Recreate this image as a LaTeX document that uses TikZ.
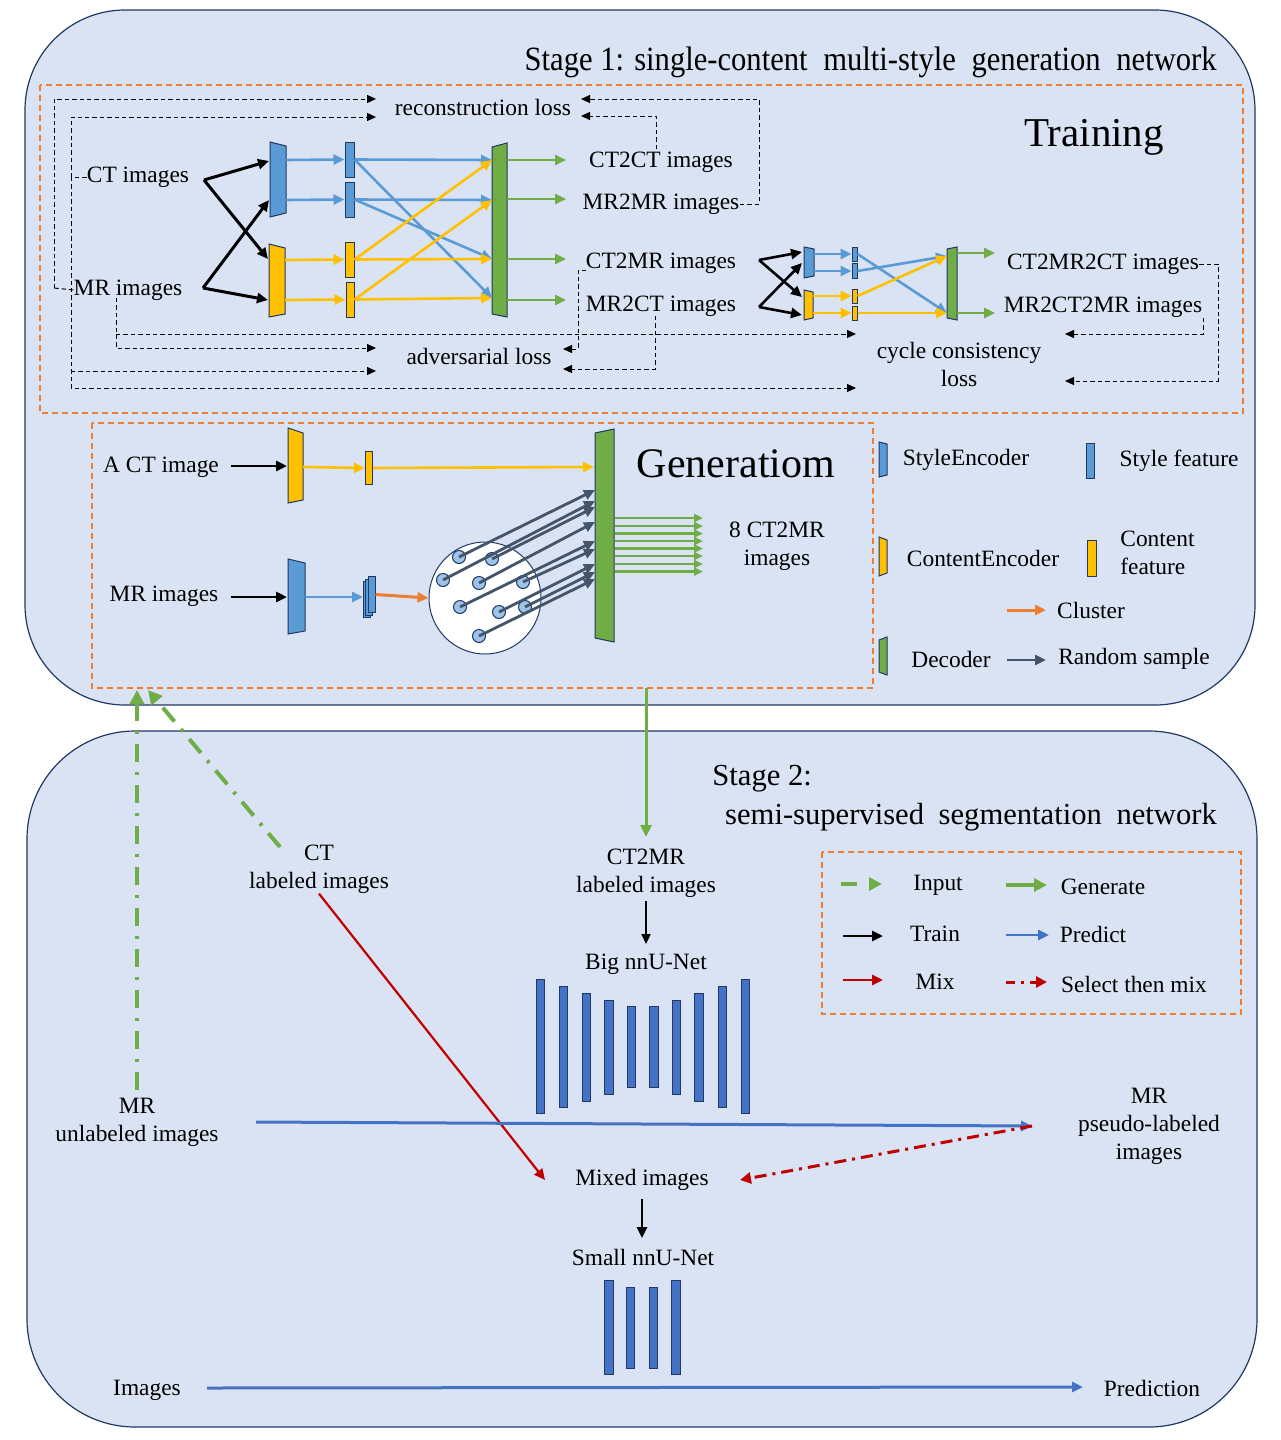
\documentclass[tikz,border=0pt]{standalone}
\usepackage{fontspec}
\setmainfont{Liberation Serif}
\newfontfamily\titlefont[FakeStretch=0.9]{Liberation Serif}
\usetikzlibrary{arrows.meta}
\definecolor{bgblue}{HTML}{DAE3F3}
\definecolor{sblue}{HTML}{5B9BD5}
\definecolor{syel}{HTML}{FFC000}
\definecolor{sgreen}{HTML}{70AD47}
\definecolor{sorange}{HTML}{ED7D31}
\definecolor{slate}{HTML}{44546A}
\definecolor{nblue}{HTML}{4472C4}
\definecolor{sred}{HTML}{C00000}
\definecolor{edge}{HTML}{203864}
\definecolor{dotblue}{HTML}{9DC3E6}
\tikzset{
 stagebox/.style={fill=bgblue, draw=edge, line width=0.6pt},
 odash/.style={draw=sorange, line width=0.6pt, dash pattern=on 3pt off 2pt},
 txt/.style={font=\fontsize{11.7}{14}\selectfont, inner sep=0pt, align=center},
 shp/.style={draw=edge, line width=0.5pt},
 feat/.style n args={3}{shp, fill=#1, minimum width=#2, minimum height=#3, inner sep=0pt, rectangle},
 carr/.style={line width=1.3pt, -{Triangle[length=5.5pt,width=5pt]}},
 ba/.style={carr, draw=sblue},
 ya/.style={carr, draw=syel},
 ga/.style={carr, draw=sgreen},
 blk/.style={line width=1.5pt, -{Triangle[length=5.5pt,width=5pt]}},
 dl/.style={line width=0.5pt, dash pattern=on 2.2pt off 1.5pt},
 dla/.style={dl, -{Triangle[length=4.5pt,width=4pt]}},
 sa/.style={draw=slate, line width=1.4pt, -{Triangle[length=5.5pt,width=5pt]}},
 bar/.style={shp, fill=nblue},
 gdd/.style={draw=sgreen, line width=2pt, dash pattern=on 9pt off 5pt on 1.5pt off 5pt, -{Triangle[length=7pt,width=7pt]}},
 rdd/.style={draw=sred, line width=1.5pt, dash pattern=on 6pt off 3pt on 1.5pt off 3pt, -{Triangle[length=5.5pt,width=5.5pt]}},
}
\begin{document}
\begin{tikzpicture}[x=0.5pt,y=-0.5pt]
\useasboundingbox (0,0) rectangle (1280,1440);
\fill[white] (0,0) rectangle (1280,1440);
% ---------------- stage boxes
\draw[stagebox, rounded corners=50pt] (25,10) rectangle (1255,705);
\draw[stagebox, rounded corners=54pt] (27,731) rectangle (1257,1427);
\draw[odash] (40,85) rectangle (1243,413);
\draw[odash] (92,423) rectangle (873,688);
\draw[odash] (822,852) rectangle (1241,1014);

% ---------------- titles
\node[anchor=east, inner sep=0pt, font=\titlefont\fontsize{17}{20}\selectfont] (st1) at (1217,62) {Stage 1: single-content\hspace{4pt} multi-style\hspace{4pt} generation\hspace{4pt} network};
\node[inner sep=0pt, font=\fontsize{20.5}{24}\selectfont] (train) at (1094,137) {Training};
\node[inner sep=0pt, font=\fontsize{21}{25}\selectfont] (gen) at (736,464) {Generatiom};
\node[anchor=west, inner sep=0pt, font=\fontsize{15.3}{18}\selectfont] (st2a) at (712,779) {Stage 2:};
\node[inner sep=0pt, font=\fontsize{15.3}{18}\selectfont] (st2b) at (971,817) {semi-supervised\hspace{3.5pt} segmentation\hspace{3.5pt} network};

% ================= TRAINING
\node[txt] (rec) at (483,107) {reconstruction loss};
\node[txt] (adv) at (479,356) {adversarial loss};
\node[txt] (ct) at (138,177) {CT images};
\node[txt] (mr) at (128,290) {MR images};
\node[txt] (t1) at (661,162) {CT2CT images};
\node[txt] (t2) at (661,204) {MR2MR images};
\node[txt] (t3) at (661,263) {CT2MR images};
\node[txt] (t4) at (661,306) {MR2CT images};
\node[txt] (t5) at (1103,264) {CT2MR2CT images};
\node[txt] (t6) at (1103,307) {MR2CT2MR images};
\node[txt] (cyc) at (959,364) {cycle consistency\\loss};

% encoders / decoder
\draw[shp, fill=sblue] (270,142) -- (286,146) -- (286,213) -- (270,217) -- cycle;
\draw[shp, fill=syel] (269,244) -- (285,248) -- (285,314) -- (269,317) -- cycle;
\draw[shp, fill=sgreen] (492,147) -- (507,143) -- (507,317) -- (492,314) -- cycle;
\node[feat={sblue}{4.5pt}{17.5pt}] (sf1) at (349.5,159.5) {};
\node[feat={sblue}{4.5pt}{17.5pt}] (sf2) at (349.5,199.5) {};
\node[feat={syel}{4.5pt}{17.5pt}] (cf1) at (349.5,259.5) {};
\node[feat={syel}{4pt}{17.5pt}] (cf2) at (350,299.5) {};
\coordinate (seO1) at (286,160); \coordinate (seO2) at (286,200);
\coordinate (ceO1) at (285,260); \coordinate (ceO2) at (285,300);
\coordinate (dI1) at (492,160); \coordinate (dI2) at (492,200);
\coordinate (dI3) at (492,259); \coordinate (dI4) at (492,298);
\coordinate (dO1) at (507,160); \coordinate (dO2) at (507,199);
\coordinate (dO3) at (507,259); \coordinate (dO4) at (507,300);
\coordinate (gE1) at (566,160); \coordinate (gE2) at (566,199);
\coordinate (gE3) at (566,259); \coordinate (gE4) at (566,300);
\draw[ba] (seO1) -- (sf1.west);
\draw[ba] (seO2) -- (sf2.west);
\draw[ya] (ceO1) -- (cf1.west);
\draw[ya] (ceO2) -- (cf2.west);
\draw[ba] (sf1.east) -- (dI1);
\draw[ba] (sf1.east) -- (dI4);
\draw[ba] (sf2.east) -- (dI2);
\draw[ba] (sf2.east) -- (dI3);
\draw[ya] (cf1.east) -- (dI3);
\draw[ya] (cf1.east) -- (dI1);
\draw[ya] (cf2.east) -- (dI4);
\draw[ya] (cf2.east) -- (dI2);
\draw[ga] (dO1) -- (gE1);
\draw[ga] (dO2) -- (gE2);
\draw[ga] (dO3) -- (gE3);
\draw[ga] (dO4) -- (gE4);
% black inputs
\coordinate (ctS) at (204,180); \coordinate (mrS) at (203,288);
\coordinate (seI1) at (269,161); \coordinate (seI2) at (269,200);
\coordinate (ceI1) at (268,259); \coordinate (ceI2) at (268,300);
\draw[blk] (ctS) -- (seI1);
\draw[blk] (ctS) -- (ceI1);
\draw[blk] (mrS) -- (seI2);
\draw[blk] (mrS) -- (ceI2);

% dashed loss lines (left)
\coordinate (ctJ) at (71,177);
\coordinate (ctB) at (71,371);
\coordinate (mrJ) at (54,288);
\coordinate (mrK) at (116,298);
\coordinate (mrB) at (116,334);
\coordinate (recA1) at (376,99); \coordinate (recA2) at (376,117);
\coordinate (advA1) at (376,348); \coordinate (advA2) at (376,371);
\coordinate (cycA1) at (856,334); \coordinate (cycA2) at (856,388);
\draw[dl] (ct.west) -- (ctJ);
\draw[dla] (ctJ) |- (recA2);
\draw[dla] (ctJ) |- (cycA2);
\draw[dla] (ctB) -- (advA2);
\draw[dl] (mr.west) -- (mrJ);
\draw[dla] (mrJ) |- (recA1);
\draw[dla] (mrK) |- (advA1);
\draw[dla] (mrB) -- (cycA1);
% dashed loss lines (right)
\coordinate (recB1) at (581,99); \coordinate (recB2) at (581,116);
\coordinate (recK) at (759,99);
\coordinate (t1T) at (656,149);
\draw[dla] (t2.east) -| (recK) -- (recB1);
\draw[dla] (t1T) |- (recB2);
\coordinate (t3W) at (586,270); \coordinate (advK) at (578,349);
\coordinate (advB1) at (563,349); \coordinate (advB2) at (563,369);
\coordinate (t4S) at (655,316);
\draw[dla] (t3W) -| (advK) -- (advB1);
\draw[dla] (t4S) |- (advB2);
\coordinate (t6S) at (1203,318); \coordinate (cycB1) at (1065,334);
\coordinate (cycK) at (1218,381); \coordinate (cycB2) at (1065,381);
\draw[dla] (t6S) |- (cycB1);
\draw[dla] (t5.east) -| (cycK) -- (cycB2);

% cycle network
\draw[shp, fill=sblue] (804,247) -- (814,249) -- (814,276) -- (804,278) -- cycle;
\draw[shp, fill=syel] (804,290) -- (813,292) -- (813,318) -- (804,320) -- cycle;
\draw[shp, fill=sgreen] (947,249) -- (957,247) -- (957,320) -- (947,318) -- cycle;
\node[feat={sblue}{2.5pt}{7pt}] (csf1) at (854.5,254) {};
\node[feat={sblue}{2.5pt}{7.5pt}] (csf2) at (854.5,271) {};
\node[feat={syel}{2.5pt}{7pt}] (ccf1) at (854.5,296) {};
\node[feat={syel}{2.5pt}{7pt}] (ccf2) at (854.5,313) {};
\coordinate (cseO1) at (814,254); \coordinate (cseO2) at (814,271);
\coordinate (cceO1) at (813,296); \coordinate (cceO2) at (813,313);
\coordinate (cdI1) at (947,256); \coordinate (cdI2) at (947,313);
\coordinate (cdO1) at (957,253); \coordinate (cdO2) at (957,313);
\coordinate (cgE1) at (995,253); \coordinate (cgE2) at (995,313);
\draw[ba] (cseO1) -- (csf1.west);
\draw[ba] (cseO2) -- (csf2.west);
\draw[ya] (cceO1) -- (ccf1.west);
\draw[ya] (cceO2) -- (ccf2.west);
\draw[ba] (csf1.east) -- (cdI2);
\draw[ba] (csf2.east) -- (cdI1);
\draw[ya] (ccf1.east) -- (cdI1);
\draw[ya] (ccf2.east) -- (cdI2);
\draw[ga] (cdO1) -- (cgE1);
\draw[ga] (cdO2) -- (cgE2);
\coordinate (cS1) at (759,260); \coordinate (cS2) at (759,307);
\coordinate (cI1) at (802,252); \coordinate (cI2) at (802,263);
\coordinate (cI3) at (802,297); \coordinate (cI4) at (802,315);
\draw[blk, line width=1.3pt] (cS1) -- (cI1);
\draw[blk, line width=1.3pt] (cS1) -- (cI3);
\draw[blk, line width=1.3pt] (cS2) -- (cI2);
\draw[blk, line width=1.3pt] (cS2) -- (cI4);

% ================= GENERATION
\node[txt] (act) at (161,467) {A CT image};
\node[txt] (mrg) at (164,596) {MR images};
\node[txt] (out8) at (777,546) {8 CT2MR\\images};
\draw[shp, fill=syel] (288,428) -- (303,433) -- (303,500) -- (288,503) -- cycle;
\draw[shp, fill=sblue] (288,559) -- (305,563) -- (305,631) -- (288,634) -- cycle;
\draw[shp, fill=sgreen] (595,433) -- (614,429) -- (614,642) -- (595,638) -- cycle;
\node[feat={syel}{3.5pt}{16.5pt}] (gcf) at (369,468) {};
\draw[shp, fill=sblue] (363,581) rectangle (370,617);
\draw[shp, fill=sblue] (365.5,579) rectangle (372.5,615);
\node[feat={sblue}{3.5pt}{18pt}] (gsf) at (371.5,594.5) {};
\coordinate (actE) at (231,466); \coordinate (gyI) at (287,466);
\coordinate (mrgE) at (231,597); \coordinate (gbI) at (287,597);
\coordinate (gyO) at (303,467); \coordinate (gbO) at (305,597);
\coordinate (gsfW) at (363,597);
\coordinate (gdY) at (594,467);
\draw[blk, line width=1.4pt] (actE) -- (gyI);
\draw[blk, line width=1.4pt] (mrgE) -- (gbI);
\draw[ya] (gyO) -- (gcf.west);
\draw[ya] (gcf.east) -- (gdY);
\draw[ba] (gbO) -- (gsfW);
\node[circle, shp, fill=white, minimum size=56pt, inner sep=0pt] (clu) at (485,598) {};
\draw[draw=sorange, line width=1.5pt, -{Triangle[length=5.5pt,width=5pt]}] (gsf.east) -- (clu.west);
\foreach \i/\x/\y in {1/459/557, 2/492/559, 3/443/580, 4/479/583, 5/523/582, 6/460/607, 7/499/612, 8/525/607, 9/479/636}
  \node[circle, shp, fill=dotblue, minimum size=6.5pt, inner sep=0pt] (dt\i) at (\x,\y) {};
\foreach \i/\y in {1/490, 3/501, 2/507, 4/522, 6/541, 5/549, 7/564, 8/572, 9/579} {
  \coordinate (dtE\i) at (595,\y);
  \draw[sa] (dt\i.center) -- (dtE\i);
}
\foreach \k/\y in {1/518, 2/526, 3/533.5, 4/541, 5/548.5, 6/556, 7/564, 8/571.5} {
  \coordinate (goS\k) at (615,\y); \coordinate (goE\k) at (703,\y);
  \draw[ga, -{Triangle[length=4.5pt,width=4pt]}] (goS\k) -- (goE\k);
}

% ================= LEGEND 1
\draw[shp, fill=sblue] (879,442) -- (887,444) -- (887,475) -- (879,477) -- cycle;
\node[feat={sblue}{4pt}{17.5pt}] (lsf) at (1090.5,461) {};
\draw[shp, fill=syel] (879,537) -- (887,540) -- (887,573) -- (879,576) -- cycle;
\node[feat={syel}{4.5pt}{18pt}] (lcf) at (1092,558) {};
\draw[shp, fill=sgreen] (879,640) -- (887,637) -- (887,675) -- (879,672) -- cycle;
\node[txt] (lse) at (966,460) {StyleEncoder};
\node[txt] (lsft) at (1179,461) {Style feature};
\node[txt] (lce) at (983,558) {ContentEncoder};
\node[txt, align=left, anchor=west] (lcft) at (1120,553) {Content\\feature};
\node[txt] (lclu) at (1091,610) {Cluster};
\node[txt] (ldec) at (951,659) {Decoder};
\node[txt] (lrs) at (1134,659) {Random sample};
\coordinate (lcA) at (1007,610); \coordinate (lcB) at (1046,610);
\coordinate (lrA) at (1007,660); \coordinate (lrB) at (1046,660);
\draw[draw=sorange, line width=1.5pt, -{Triangle[length=5.5pt,width=5pt]}] (lcA) -- (lcB);
\draw[sa] (lrA) -- (lrB);

% ================= STAGE 2
\node[txt] (ctl) at (319,869) {CT\\labeled images};
\node[txt] (mru) at (137,1122) {MR\\unlabeled images};
\node[txt] (mrp) at (1149,1126) {MR\\pseudo-labeled\\images};
\node[txt] (c2m) at (646,873) {CT2MR\\labeled images};
\node[txt] (big) at (646,964) {Big nnU-Net};
\node[txt] (mix) at (642,1180) {Mixed images};
\node[txt] (small) at (643,1257) {Small nnU-Net};
\node[txt] (img) at (147,1390) {Images};
\node[txt] (pred) at (1152,1388) {Prediction};

\foreach \x/\a/\b in {536/979/1113, 559/986/1107, 582/993/1101, 604.5/1000/1094, 627/1006/1087, 649.5/1006/1087, 672/1000/1094, 694.5/993/1101, 718/986/1107, 741/979/1113}
  \draw[bar] (\x,\a) rectangle ++(8.5,\b-\a);
\foreach \x/\a/\b in {604.5/1280/1374, 626/1287/1368, 649/1287/1368, 671.5/1280/1374}
  \draw[bar] (\x,\a) rectangle ++(8.5,\b-\a);

\coordinate (genB) at (646,688); \coordinate (c2mT) at (646,837);
\draw[draw=sgreen, line width=1.5pt, -{Triangle[length=6pt,width=5.5pt]}] (genB) -- (c2mT);
\coordinate (c2mS) at (646,901); \coordinate (bigN) at (646,944);
\draw[line width=1.1pt, -{Triangle[length=5pt,width=4.5pt]}] (c2mS) -- (bigN);
\coordinate (mixS) at (642,1199); \coordinate (smallN) at (642,1238);
\draw[line width=1.3pt, -{Triangle[length=5.5pt,width=5pt]}] (mixS) -- (smallN);

\coordinate (mruT) at (137,1090); \coordinate (gA1) at (137,690);
\coordinate (ctlS) at (280,847); \coordinate (gA2) at (148,690);
\draw[gdd] (mruT) -- (gA1);
\draw[gdd] (ctlS) -- (gA2);

\coordinate (mixA) at (545,1180);
\draw[draw=sred, line width=1.1pt, -{Triangle[length=5.5pt,width=5pt]}] (ctl.south) -- (mixA);
\coordinate (mruE) at (256,1122); \coordinate (mrpL) at (1032,1126);
\draw[draw=nblue, line width=1.5pt, -{Triangle[length=5.5pt,width=5pt]}] (mruE) -- (mrpL);
\coordinate (mixB) at (740,1180);
\draw[rdd] (mrpL) -- (mixB);
\coordinate (imgE) at (207,1388); \coordinate (predW) at (1083,1387);
\draw[draw=nblue, line width=1.5pt, -{Triangle[length=5.5pt,width=5pt]}] (imgE) -- (predW);

% ================= LEGEND 2
\node[txt] (lin) at (938,885) {Input};
\node[txt] (lgen) at (1103,887) {Generate};
\node[txt] (ltr) at (935,934) {Train};
\node[txt] (lpr) at (1093,934) {Predict};
\node[txt] (lmx) at (935,982) {Mix};
\node[txt] (lsel) at (1134,984) {Select then mix};
\coordinate (l1a) at (841,884); \coordinate (l1b) at (882,884);
\coordinate (l2a) at (1006,885); \coordinate (l2b) at (1047,885);
\coordinate (l3a) at (843,936); \coordinate (l3b) at (883,936);
\coordinate (l4a) at (1006,935); \coordinate (l4b) at (1049,935);
\coordinate (l5a) at (843,980); \coordinate (l5b) at (883,980);
\coordinate (l6a) at (1006,982); \coordinate (l6b) at (1047,982);
\draw[draw=sgreen, line width=2pt, dash pattern=on 8pt off 6pt, -{Triangle[length=6.5pt,width=6.5pt]}] (l1a) -- (l1b);
\draw[draw=sgreen, line width=2pt, -{Triangle[length=6.5pt,width=6.5pt]}] (l2a) -- (l2b);
\draw[line width=1.3pt, -{Triangle[length=5.5pt,width=5pt]}] (l3a) -- (l3b);
\draw[draw=nblue, line width=1.3pt, -{Triangle[length=5.5pt,width=5pt]}] (l4a) -- (l4b);
\draw[draw=sred, line width=1.3pt, -{Triangle[length=5.5pt,width=5pt]}] (l5a) -- (l5b);
\draw[draw=sred, line width=1.5pt, dash pattern=on 4.5pt off 3pt on 1.5pt off 3pt, -{Triangle[length=5.5pt,width=5.5pt]}] (l6a) -- (l6b);
\end{tikzpicture}
\end{document}
